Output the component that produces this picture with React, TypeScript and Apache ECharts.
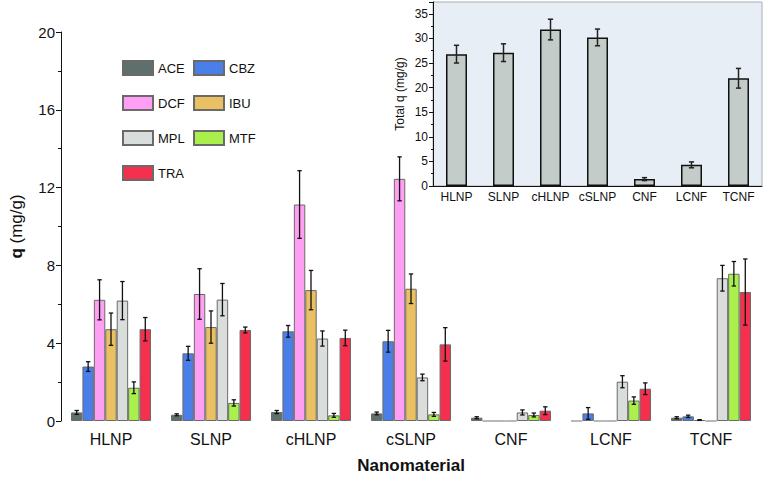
import React, { useEffect, useRef } from "react";
import * as echarts from "echarts";

const categories = ["HLNP", "SLNP", "cHLNP", "cSLNP", "CNF", "LCNF", "TCNF"];
const seriesNames = ["ACE", "CBZ", "DCF", "IBU", "MPL", "MTF", "TRA"];
const seriesColors = ["#5e6f6c", "#4a7fe9", "#ff9ff3", "#e9c062", "#d9dddc", "#a9f04c", "#f5304f"];

const aceValues = [0.44, 0.32, 0.46, 0.39, 0.17, 0, 0.17];
const aceErrors = [0.1, 0.05, 0.08, 0.07, 0.05, 0, 0.05];
const cbzValues = [2.8, 3.48, 4.61, 4.1, 0, 0.39, 0.24];
const cbzErrors = [0.25, 0.36, 0.3, 0.56, 0, 0.3, 0.06];
const dcfValues = [6.23, 6.53, 11.13, 12.45, 0, 0, 0.05];
const dcfErrors = [1.03, 1.3, 1.74, 1.13, 0, 0, 0.02];
const ibuValues = [4.72, 4.83, 6.73, 6.8, 0, 0, 0];
const ibuErrors = [0.83, 0.83, 1.01, 0.76, 0, 0, 0];
const mplValues = [6.19, 6.24, 4.24, 2.24, 0.44, 2.02, 7.34];
const mplErrors = [0.98, 0.83, 0.39, 0.17, 0.13, 0.31, 0.66];
const mtfValues = [1.71, 0.93, 0.29, 0.34, 0.31, 1.05, 7.57];
const mtfErrors = [0.3, 0.16, 0.1, 0.1, 0.1, 0.19, 0.63];
const traValues = [4.72, 4.68, 4.27, 3.94, 0.53, 1.66, 6.63];
const traErrors = [0.6, 0.15, 0.4, 0.86, 0.2, 0.3, 1.7];

const totalValues = [26.8, 27.1, 31.8, 30.2, 1.4, 4.3, 21.9];
const totalErrors = [1.8, 1.8, 2.1, 1.7, 0.3, 0.6, 2.0];

const mainYTicks = { min: 0, max: 20, interval: 4 };
const insetYTicks = { min: 0, max: 37.4, interval: 5 };

const allValues = [aceValues, cbzValues, dcfValues, ibuValues, mplValues, mtfValues, traValues];
const allErrors = [aceErrors, cbzErrors, dcfErrors, ibuErrors, mplErrors, mtfErrors, traErrors];

const FONT = "'Liberation Sans', Arial, sans-serif";
const CAT_GAP = 0.2;

export default function App() {
  const ref = useRef<HTMLDivElement>(null);

  useEffect(() => {
    if (!ref.current) return;
    const chart = echarts.init(ref.current, undefined, { renderer: "svg" });

    const barSeries = seriesNames.map((name, si) => ({
      name,
      type: "bar",
      xAxisIndex: 0,
      yAxisIndex: 0,
      barGap: "0%",
      barCategoryGap: CAT_GAP * 100 + "%",
      itemStyle: { color: seriesColors[si], borderColor: "#6a6a6a", borderWidth: 1 },
      data: allValues[si].map((v) => (v === 0 ? "-" : v)),
      z: 2,
    }));

    const errData: number[][] = [];
    allValues.forEach((vals, si) => {
      vals.forEach((v, ci) => {
        errData.push([ci, v, allErrors[si][ci], si]);
      });
    });

    const mainErr = {
      type: "custom",
      xAxisIndex: 0,
      yAxisIndex: 0,
      z: 5,
      silent: true,
      encode: { x: 0, y: 1 },
      data: errData,
      renderItem: (params: any, api: any) => {
        const ci = api.value(0);
        const v = api.value(1);
        const e = api.value(2);
        const si = api.value(3);
        const base = api.coord([ci, 0]);
        const band = api.size([1, 0])[0];
        const groupW = band * (1 - CAT_GAP);
        const barW = groupW / seriesNames.length;
        const x = base[0] - groupW / 2 + (si + 0.5) * barW;
        if (v === 0) {
          return {
            type: "line",
            shape: { x1: x - barW / 2, y1: base[1], x2: x + barW / 2, y2: base[1] },
            style: { stroke: "#a0a0a0", lineWidth: 1.5 },
          };
        }
        const yTop = api.coord([ci, v + e])[1];
        const yBot = api.coord([ci, Math.max(v - e, 0)])[1];
        const cap = 2.2;
        const st = { stroke: "#111", lineWidth: 1.3 };
        return {
          type: "group",
          children: [
            { type: "line", shape: { x1: x, y1: yTop, x2: x, y2: yBot }, style: st },
            { type: "line", shape: { x1: x - cap, y1: yTop, x2: x + cap, y2: yTop }, style: st },
            { type: "line", shape: { x1: x - cap, y1: yBot, x2: x + cap, y2: yBot }, style: st },
          ],
        };
      },
    };

    const insetErr = {
      type: "custom",
      xAxisIndex: 1,
      yAxisIndex: 1,
      z: 12,
      silent: true,
      encode: { x: 0, y: 1 },
      data: totalValues.map((v, ci) => [ci, v, totalErrors[ci]]),
      renderItem: (params: any, api: any) => {
        const ci = api.value(0);
        const v = api.value(1);
        const e = api.value(2);
        const x = api.coord([ci, 0])[0];
        const yTop = api.coord([ci, v + e])[1];
        const yBot = api.coord([ci, v - e])[1];
        const cap = 2.6;
        const st = { stroke: "#222", lineWidth: 1.5 };
        return {
          type: "group",
          children: [
            { type: "line", shape: { x1: x, y1: yTop, x2: x, y2: yBot }, style: st },
            { type: "line", shape: { x1: x - cap, y1: yTop, x2: x + cap, y2: yTop }, style: st },
            { type: "line", shape: { x1: x - cap, y1: yBot, x2: x + cap, y2: yBot }, style: st },
          ],
        };
      },
    };

    const legendCommon = {
      orient: "vertical",
      top: 55,
      itemWidth: 30,
      itemHeight: 14,
      itemGap: 19,
      icon: "rect",
      selectedMode: false,
      textStyle: { fontSize: 13, fontFamily: FONT, color: "#111" },
    };

    const option: any = {
      animation: false,
      backgroundColor: "#ffffff",
      textStyle: { fontFamily: FONT },
      legend: [
        { ...legendCommon, left: 117, data: ["ACE", "DCF", "MPL", "TRA"] },
        { ...legendCommon, left: 188, data: ["CBZ", "IBU", "MTF"] },
      ],
      grid: [
        { left: 54, top: 32, right: 2, bottom: 54, containLabel: false },
        {
          left: 433,
          top: 2,
          right: 1,
          height: 184,
          containLabel: false,
          show: true,
          backgroundColor: "#e8eef5",
          borderColor: "#a8aeb4",
          borderWidth: 1,
          z: 10,
        },
      ],
      xAxis: [
        {
          type: "category",
          gridIndex: 0,
          data: categories,
          axisLine: { show: false },
          axisTick: { show: false },
          axisLabel: { fontSize: 16, color: "#111", margin: 10, fontFamily: FONT, interval: 0 },
          name: "Nanomaterial",
          nameLocation: "middle",
          nameGap: 36,
          nameTextStyle: { fontSize: 17, fontWeight: "bold", color: "#111", fontFamily: FONT },
        },
        {
          type: "category",
          gridIndex: 1,
          data: categories,
          z: 11,
          axisLine: { show: true, lineStyle: { color: "#111", width: 1 } },
          axisTick: { show: false },
          axisLabel: { fontSize: 12, color: "#111", margin: 5, fontFamily: FONT, interval: 0 },
        },
      ],
      yAxis: [
        {
          type: "value",
          gridIndex: 0,
          min: mainYTicks.min,
          max: mainYTicks.max,
          interval: mainYTicks.interval,
          axisLine: { show: true, lineStyle: { color: "#111", width: 1 } },
          axisTick: { show: true, length: 5, lineStyle: { color: "#111" } },
          minorTick: { show: true, splitNumber: 2, length: 3, lineStyle: { color: "#111" } },
          splitLine: { show: false },
          axisLabel: { fontSize: 15, color: "#111", margin: 6, fontFamily: FONT },
          name: "{b|q} (mg/g)",
          nameLocation: "middle",
          nameGap: 36,
          nameTextStyle: {
            fontSize: 17,
            color: "#111",
            fontFamily: FONT,
            rich: { b: { fontSize: 17, fontWeight: "bold", color: "#111", fontFamily: FONT } },
          },
        },
        {
          type: "value",
          gridIndex: 1,
          min: insetYTicks.min,
          max: insetYTicks.max,
          interval: insetYTicks.interval,
          z: 11,
          axisLine: { show: true, lineStyle: { color: "#111", width: 1 } },
          axisTick: { show: true, length: 4, lineStyle: { color: "#111" } },
          minorTick: { show: true, splitNumber: 2, length: 2, lineStyle: { color: "#111" } },
          splitLine: { show: false },
          axisLabel: { fontSize: 12, color: "#111", margin: 5, fontFamily: FONT, showMaxLabel: false },
          name: "Total q (mg/g)",
          nameLocation: "middle",
          nameGap: 27,
          nameTextStyle: { fontSize: 12, color: "#111", fontFamily: FONT },
        },
      ],
      series: [
        ...barSeries,
        mainErr,
        {
          type: "bar",
          name: "Total",
          xAxisIndex: 1,
          yAxisIndex: 1,
          barWidth: 21,
          z: 11,
          itemStyle: { color: "#c3ccc9", borderColor: "#111", borderWidth: 1.5 },
          data: totalValues,
        },
        insetErr,
      ],
    };

    chart.setOption(option);
    return () => chart.dispose();
  }, []);

  return (
    <div
      ref={ref}
      style={{ position: "fixed", left: 0, top: 0, width: 763, height: 479 }}
    />
  );
}
